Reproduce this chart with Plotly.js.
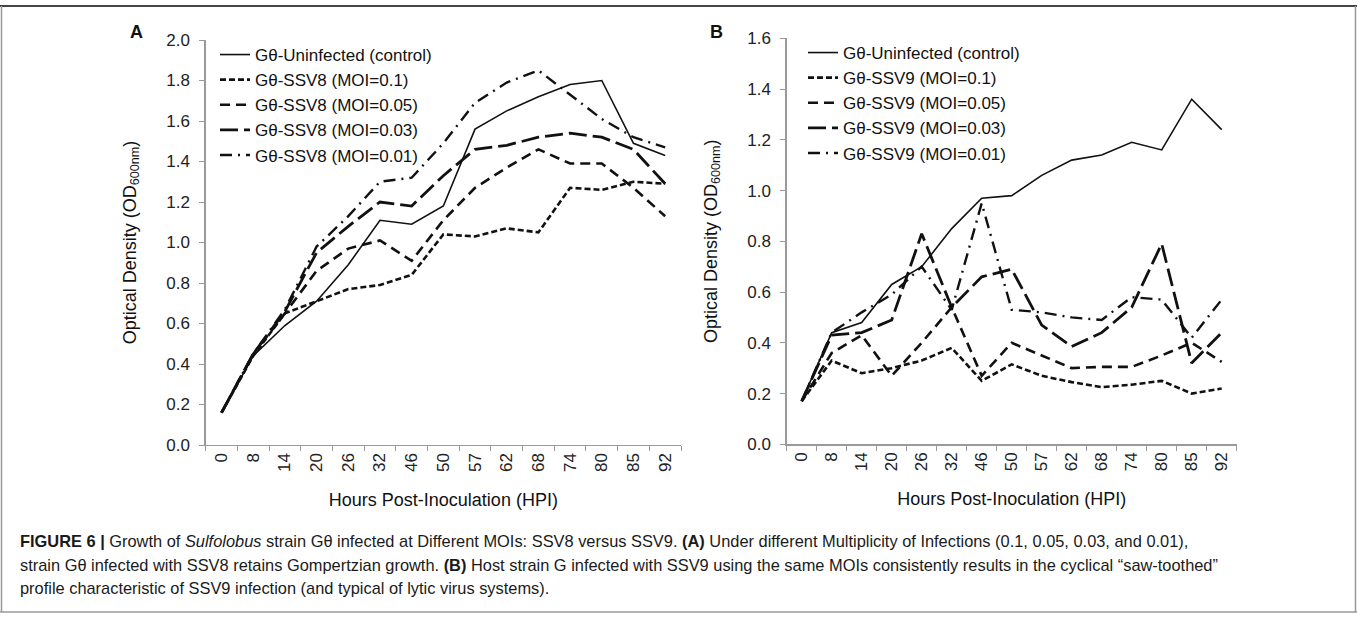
<!DOCTYPE html>
<html>
<head>
<meta charset="utf-8">
<script src="https://cdn.plot.ly/plotly-3.0.1.min.js"></script>
<style>
html,body{margin:0;padding:0;background:#fff;}
#chart{width:1357px;height:619px;}
</style>
</head>
<body>
<div id="chart"></div>
<script>
// Categories (hours post-inoculation)
const hours = ["0","8","14","20","26","32","46","50","57","62","68","74","80","85","92"];

// Panel A: SSV8
const A_control = [0.16,0.44,0.59,0.71,0.89,1.11,1.09,1.18,1.56,1.65,1.72,1.78,1.80,1.49,1.43];
const A_moi01   = [0.16,0.44,0.65,0.71,0.77,0.79,0.84,1.04,1.03,1.07,1.05,1.27,1.26,1.30,1.29];
const A_moi005  = [0.16,0.45,0.65,0.86,0.97,1.01,0.91,1.11,1.27,1.37,1.46,1.39,1.39,1.27,1.13];
const A_moi003  = [0.16,0.45,0.66,0.95,1.08,1.20,1.18,1.33,1.46,1.48,1.52,1.54,1.52,1.46,1.29];
const A_moi001  = [0.16,0.45,0.67,0.98,1.13,1.30,1.32,1.49,1.69,1.79,1.85,1.73,1.61,1.52,1.47];

// Panel B: SSV9
const B_control = [0.17,0.44,0.48,0.63,0.70,0.85,0.97,0.98,1.06,1.12,1.14,1.19,1.16,1.36,1.24];
const B_moi01   = [0.17,0.33,0.28,0.30,0.33,0.38,0.25,0.315,0.27,0.245,0.225,0.235,0.25,0.20,0.22];
const B_moi005  = [0.17,0.36,0.43,0.27,0.40,0.54,0.27,0.40,0.35,0.30,0.305,0.305,0.35,0.40,0.325];
const B_moi003  = [0.17,0.43,0.44,0.49,0.83,0.54,0.66,0.69,0.47,0.385,0.44,0.54,0.79,0.32,0.44];
const B_moi001  = [0.17,0.44,0.52,0.59,0.70,0.53,0.95,0.53,0.52,0.50,0.49,0.58,0.57,0.42,0.57];

const namesA = ["Gθ-Uninfected (control)","Gθ-SSV8 (MOI=0.1)","Gθ-SSV8 (MOI=0.05)","Gθ-SSV8 (MOI=0.03)","Gθ-SSV8 (MOI=0.01)"];
const namesB = ["Gθ-Uninfected (control)","Gθ-SSV9 (MOI=0.1)","Gθ-SSV9 (MOI=0.05)","Gθ-SSV9 (MOI=0.03)","Gθ-SSV9 (MOI=0.01)"];

const styles = [
  {color:"#111", width:1.6, dash:"solid"},
  {color:"#111", width:2.6, dash:"6px,3px"},
  {color:"#111", width:2.6, dash:"10px,6px"},
  {color:"#111", width:2.8, dash:"18px,6px"},
  {color:"#111", width:2.4, dash:"12px,6px,2px,6px"}
];

const seriesA = [A_control, A_moi01, A_moi005, A_moi003, A_moi001];
const seriesB = [B_control, B_moi01, B_moi005, B_moi003, B_moi001];

const traces = [];
seriesA.forEach((s,i)=>traces.push({x:hours,y:s,type:"scatter",mode:"lines",name:namesA[i],line:styles[i],xaxis:"x",yaxis:"y",legend:"legend"}));
seriesB.forEach((s,i)=>traces.push({x:hours,y:s,type:"scatter",mode:"lines",name:namesB[i],line:styles[i],xaxis:"x2",yaxis:"y2",legend:"legend2"}));

const W=1357,H=619;
const px=v=>v/W, py=v=>1-v/H;

const tickFont={family:"Liberation Sans, Arial, sans-serif",size:17,color:"#222"};
const titleFont={family:"Liberation Sans, Arial, sans-serif",size:18,color:"#111"};
const legFont={family:"Liberation Sans, Arial, sans-serif",size:17,color:"#111"};

function xa(domain){
  return {domain:domain,type:"category",range:[-0.5,14.5],tickson:"boundaries",ticks:"outside",ticklen:5,tickcolor:"#9a9a9a",
    showline:true,linecolor:"#9a9a9a",linewidth:1.3,showgrid:false,zeroline:false,tickangle:-90,tickfont:tickFont,
    title:{text:"Hours Post-Inoculation (HPI)",font:titleFont,standoff:22},automargin:false,fixedrange:true};
}
function ya(domain,max,anchor){
  return {domain:domain,range:[0,max],dtick:0.2,tickformat:".1f",ticks:"outside",ticklen:5,tickcolor:"#9a9a9a",
    showline:true,linecolor:"#9a9a9a",linewidth:1.3,showgrid:false,zeroline:false,tickfont:tickFont,anchor:anchor,
    ticklabelstandoff:6,
    title:{text:"Optical Density (OD<sub>600nm</sub>)",font:titleFont,standoff:25},automargin:false,fixedrange:true};
}

const layout={
  width:W,height:H,margin:{l:0,r:0,t:0,b:0},paper_bgcolor:"#fff",plot_bgcolor:"#fff",
  showlegend:true,
  xaxis:Object.assign(xa([px(205.7),px(681)]),{anchor:"y"}),
  yaxis:ya([py(445),py(40)],2.0,"x"),
  xaxis2:Object.assign(xa([px(786.7),px(1236.7)]),{anchor:"y2"}),
  yaxis2:ya([py(444.3),py(38.3)],1.6,"x2"),
  legend:{x:px(215),y:py(37),xanchor:"left",yanchor:"top",bgcolor:"rgba(0,0,0,0)",font:legFont,tracegroupgap:0,itemwidth:30},
  legend2:{x:px(803),y:py(35),xanchor:"left",yanchor:"top",bgcolor:"rgba(0,0,0,0)",font:legFont,tracegroupgap:0,itemwidth:30},
  shapes:[
    {type:"line",xref:"paper",yref:"paper",x0:0,x1:1,y0:py(6),y1:py(6),line:{color:"#444",width:2}},
    {type:"line",xref:"paper",yref:"paper",x0:px(1.5),x1:px(1.5),y0:py(6),y1:py(612),line:{color:"#999",width:1.5}},
    {type:"line",xref:"paper",yref:"paper",x0:px(1355.5),x1:px(1355.5),y0:py(6),y1:py(612),line:{color:"#999",width:1.5}},
    {type:"line",xref:"paper",yref:"paper",x0:0,x1:1,y0:py(612),y1:py(612),line:{color:"#999",width:1.5}}
  ],
  annotations:[
    {text:"<b>A</b>",xref:"paper",yref:"paper",x:px(136),y:py(32),xanchor:"center",yanchor:"middle",showarrow:false,font:{family:"Liberation Sans, Arial, sans-serif",size:18,color:"#111"}},
    {text:"<b>B</b>",xref:"paper",yref:"paper",x:px(716),y:py(32),xanchor:"center",yanchor:"middle",showarrow:false,font:{family:"Liberation Sans, Arial, sans-serif",size:18,color:"#111"}},
    {text:"<b>FIGURE 6 |</b> Growth of <i>Sulfolobus</i> strain Gθ infected at Different MOIs: SSV8 versus SSV9. <b>(A)</b> Under different Multiplicity of Infections (0.1, 0.05, 0.03, and 0.01),",
     xref:"paper",yref:"paper",x:px(18),y:py(541),xanchor:"left",yanchor:"middle",showarrow:false,align:"left",font:{family:"Liberation Sans Narrow, Arial Narrow, sans-serif",size:16.4,color:"#1a1a1a"}},
    {text:"strain Gθ infected with SSV8 retains Gompertzian growth. <b>(B)</b> Host strain G infected with SSV9 using the same MOIs consistently results in the cyclical “saw-toothed”",
     xref:"paper",yref:"paper",x:px(18),y:py(565),xanchor:"left",yanchor:"middle",showarrow:false,align:"left",font:{family:"Liberation Sans Narrow, Arial Narrow, sans-serif",size:16.4,color:"#1a1a1a"}},
    {text:"profile characteristic of SSV9 infection (and typical of lytic virus systems).",
     xref:"paper",yref:"paper",x:px(18),y:py(588),xanchor:"left",yanchor:"middle",showarrow:false,align:"left",font:{family:"Liberation Sans Narrow, Arial Narrow, sans-serif",size:16.4,color:"#1a1a1a"}}
  ]
};

Plotly.newPlot("chart",traces,layout,{displayModeBar:false,staticPlot:true});
</script>
</body>
</html>
